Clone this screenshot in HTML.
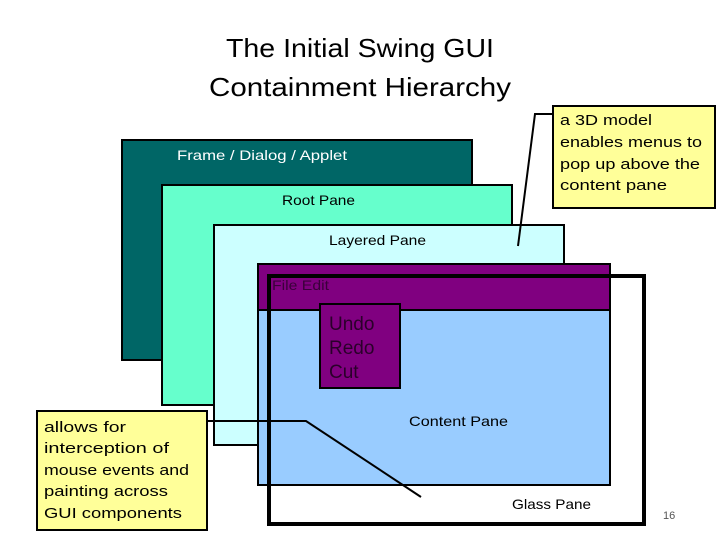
<!DOCTYPE html>
<html><head><meta charset="utf-8"><style>
html,body{margin:0;padding:0;background:#fff;}
svg{display:block;}
</style></head><body>
<svg width="720" height="540" viewBox="0 0 720 540" xmlns="http://www.w3.org/2000/svg" font-family="Liberation Sans, sans-serif">
<rect width="720" height="540" fill="#fff"/>
<text x="360" y="57" font-size="26" text-anchor="middle" textLength="268" lengthAdjust="spacingAndGlyphs">The Initial Swing GUI</text>
<text x="360" y="96" font-size="26" text-anchor="middle" textLength="302" lengthAdjust="spacingAndGlyphs">Containment Hierarchy</text>

<rect x="122" y="140" width="350" height="220" fill="#006666" stroke="#000" stroke-width="2"/>
<text x="177" y="160" font-size="14" fill="#fff" textLength="170" lengthAdjust="spacingAndGlyphs">Frame / Dialog / Applet</text>

<rect x="162" y="185" width="350" height="220" fill="#66FFCC" stroke="#000" stroke-width="2"/>
<text x="282" y="205" font-size="14" fill="#000" textLength="73" lengthAdjust="spacingAndGlyphs">Root Pane</text>

<rect x="214" y="225" width="350" height="220" fill="#CCFFFF" stroke="#000" stroke-width="2"/>
<text x="329" y="245" font-size="14" fill="#000" textLength="97" lengthAdjust="spacingAndGlyphs">Layered Pane</text>

<rect x="258" y="264" width="352" height="221" fill="#99CCFF" stroke="#000" stroke-width="2"/>
<rect x="258" y="264" width="352" height="46" fill="#800080" stroke="#000" stroke-width="2"/>
<text x="272" y="290" font-size="14" fill="#3a003a" textLength="57" lengthAdjust="spacingAndGlyphs">File Edit</text>

<rect x="320" y="304" width="80" height="84" fill="#800080" stroke="#000" stroke-width="2"/>
<text x="329" y="330" font-size="19" fill="#2a002a">Undo</text>
<text x="329" y="354" font-size="19" fill="#2a002a">Redo</text>
<text x="329" y="378" font-size="19" fill="#2a002a">Cut</text>

<text x="409" y="426" font-size="14" fill="#000" textLength="99" lengthAdjust="spacingAndGlyphs">Content Pane</text>

<rect x="269" y="276" width="375" height="248" fill="none" stroke="#000" stroke-width="4"/>
<text x="512" y="509" font-size="14" fill="#000" textLength="79" lengthAdjust="spacingAndGlyphs">Glass Pane</text>

<polyline points="207,421 306,421 421,497" fill="none" stroke="#000" stroke-width="2"/>
<polyline points="553,114 535,114 518,246" fill="none" stroke="#000" stroke-width="2"/>

<rect x="553" y="106" width="162" height="102" fill="#FFFF99" stroke="#000" stroke-width="2"/>
<g font-size="15" fill="#000">
<text x="560" y="125" textLength="92" lengthAdjust="spacingAndGlyphs">a 3D model</text>
<text x="560" y="147" textLength="142" lengthAdjust="spacingAndGlyphs">enables menus to</text>
<text x="560" y="169" textLength="140" lengthAdjust="spacingAndGlyphs">pop up above the</text>
<text x="560" y="190" textLength="107" lengthAdjust="spacingAndGlyphs">content pane</text>
</g>

<rect x="37" y="411" width="170" height="119" fill="#FFFF99" stroke="#000" stroke-width="2"/>
<g font-size="15" fill="#000">
<text x="44" y="432" textLength="82" lengthAdjust="spacingAndGlyphs">allows for</text>
<text x="44" y="453" textLength="125" lengthAdjust="spacingAndGlyphs">interception of</text>
<text x="44" y="475" textLength="145" lengthAdjust="spacingAndGlyphs">mouse events and</text>
<text x="44" y="496" textLength="124" lengthAdjust="spacingAndGlyphs">painting across</text>
<text x="44" y="518" textLength="138" lengthAdjust="spacingAndGlyphs">GUI components</text>
</g>

<text x="663" y="519" font-size="11" fill="#555">16</text>
</svg>
</body></html>
